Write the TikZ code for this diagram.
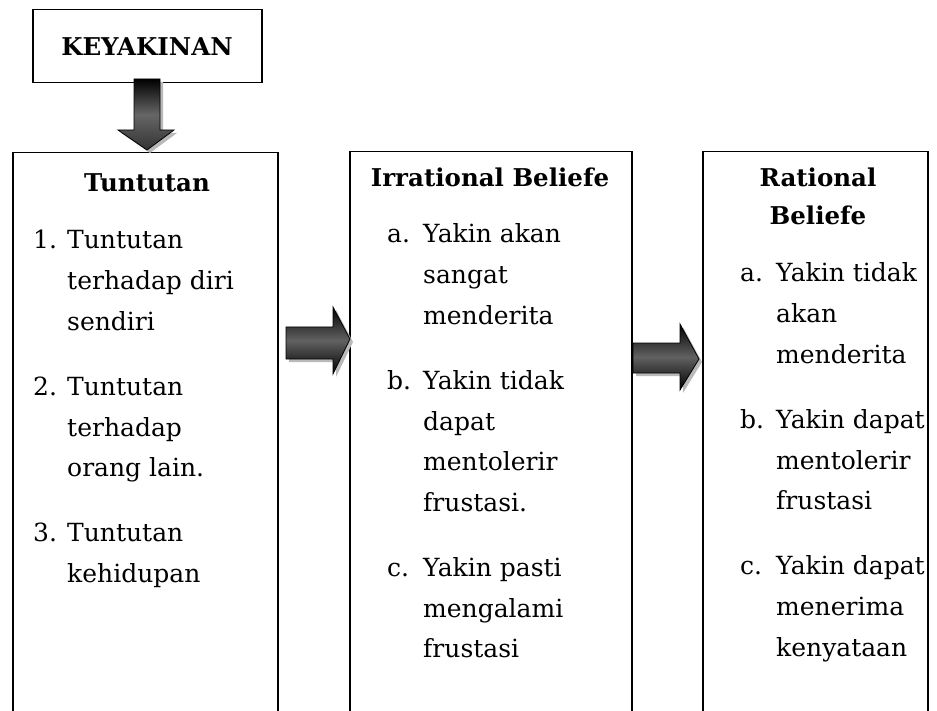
\documentclass[tikz,border=0pt]{standalone}
\usepackage{fontspec}
\setmainfont{DejaVu Serif}
\begin{document}
\begin{tikzpicture}[x=1pt,y=-1pt,
  txt/.style={anchor=base west, inner sep=0pt, font=\fontsize{25}{30}\selectfont},
  hd/.style={anchor=base, inner sep=0pt, font=\fontsize{24.5}{28}\selectfont\bfseries},
  box/.style={draw, line width=1.5pt, anchor=north west, inner sep=0pt},
  arrowfill/.style={draw=black, line width=0.8pt, top color=black, bottom color=black, middle color=black!62},
  arrowfilldown/.style={draw=black, line width=0.8pt, top color=black, bottom color=black!80, middle color=black!60},
  shadow/.style={fill=gray!55, draw=none}]
\useasboundingbox (0,0) rectangle (937,711);
\clip (0,0) rectangle (937,711);
\fill[white] (0,0) rectangle (937,711);

% boxes
\node[box, minimum width=229pt, minimum height=73pt] (key) at (32,9) {};
\node[hd] (keyt) at (147,56) {KEYAKINAN};
\node[box, minimum width=265pt, minimum height=620pt] (b1) at (12,152) {};
\node[box, minimum width=282pt, minimum height=620pt] (b2) at (349,151) {};
\node[box, minimum width=225pt, minimum height=620pt] (b3) at (702,151) {};

% down arrow
\fill[shadow] (137,82) -- (163,82) -- (163,133) -- (177,133) -- (150,153) -- (121,133) -- (137,133) -- cycle;
\path[arrowfilldown] (134,79) -- (160,79) -- (160,130) -- (174,130) -- (147,150) -- (118,130) -- (134,130) -- cycle;

% right arrow 1
\fill[shadow] (289,330) -- (336,330) -- (336,310) -- (353,342) -- (336,377) -- (336,362) -- (289,362) -- cycle;
\path[arrowfill] (286,327) -- (333,327) -- (333,307) -- (350,339) -- (333,374) -- (333,359) -- (286,359) -- cycle;

% right arrow 2
\fill[shadow] (636,346) -- (683,346) -- (683,327) -- (702,362) -- (683,393) -- (683,376) -- (636,376) -- cycle;
\path[arrowfill] (633,343) -- (680,343) -- (680,324) -- (699,359) -- (680,390) -- (680,373) -- (633,373) -- cycle;

% box 1 text
\node[hd] (h1) at (147,192) {Tuntutan};
\node[txt] (n1) at (33,249) {1.};
\node[txt] (t11) at (67,249) {Tuntutan};
\node[txt] (t12) at (67,289.7) {terhadap diri};
\node[txt] (t13) at (67,330.4) {sendiri};
\node[txt] (n2) at (33,395.4) {2.};
\node[txt] (t21) at (67,395.4) {Tuntutan};
\node[txt] (t22) at (67,436.1) {terhadap};
\node[txt] (t23) at (67,476.8) {orang lain.};
\node[txt] (n3) at (33,541.8) {3.};
\node[txt] (t31) at (67,541.8) {Tuntutan};
\node[txt] (t32) at (67,582.5) {kehidupan};

% box 2 text
\node[hd] (h2) at (490,187) {Irrational Beliefe};
\node[txt] (a2) at (387,243) {a.};
\node[txt] (u11) at (423,243) {Yakin akan};
\node[txt] (u12) at (423,283.7) {sangat};
\node[txt] (u13) at (423,324.4) {menderita};
\node[txt] (b2l) at (387,389.4) {b.};
\node[txt] (u21) at (423,389.4) {Yakin tidak};
\node[txt] (u22) at (423,430.1) {dapat};
\node[txt] (u23) at (423,470.8) {mentolerir};
\node[txt] (u24) at (423,511.5) {frustasi.};
\node[txt] (c2) at (387,576.5) {c.};
\node[txt] (u31) at (423,576.5) {Yakin pasti};
\node[txt] (u32) at (423,617.2) {mengalami};
\node[txt] (u33) at (423,657.9) {frustasi};

% box 3 text
\node[hd] (h3a) at (818,187) {Rational};
\node[hd] (h3b) at (818,225) {Beliefe};
\node[txt] (a3) at (740,282) {a.};
\node[txt] (v11) at (776,282) {Yakin tidak};
\node[txt] (v12) at (776,322.7) {akan};
\node[txt] (v13) at (776,363.4) {menderita};
\node[txt] (b3l) at (740,428.4) {b.};
\node[txt] (v21) at (776,428.4) {Yakin dapat};
\node[txt] (v22) at (776,469.1) {mentolerir};
\node[txt] (v23) at (776,509.8) {frustasi};
\node[txt] (c3) at (740,574.8) {c.};
\node[txt] (v31) at (776,574.8) {Yakin dapat};
\node[txt] (v32) at (776,615.5) {menerima};
\node[txt] (v33) at (776,656.2) {kenyataan};
\end{tikzpicture}
\end{document}
